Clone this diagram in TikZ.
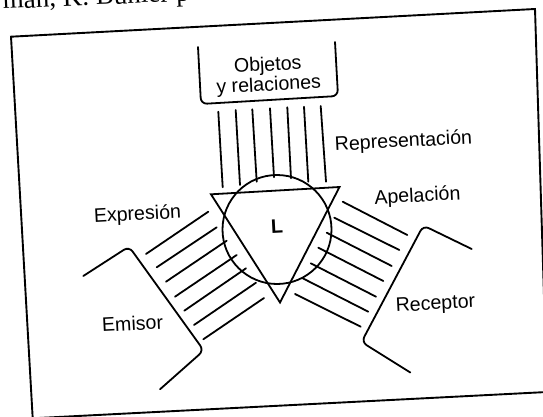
\documentclass[tikz,border=0pt]{standalone}
\usepackage{fontspec}
\setmainfont{Liberation Sans}
\newfontfamily\headserif{Liberation Serif}
\begin{document}
\begin{tikzpicture}[x=1pt,y=-1pt,
  ln/.style={line width=1.8pt, line cap=round},
  frame/.style={line width=1.9pt, line join=miter},
  lbl/.style={font=\fontsize{19.6}{19.6}\selectfont, rotate=3, inner sep=0pt},
]
\useasboundingbox (0,0) rectangle (543,417);
\clip (0,0) rectangle (543,417);
\fill[white] (0,0) rectangle (543,417);

% cut-off running head
\node[font=\headserif\fontsize{27}{27}\selectfont, anchor=base west, rotate=2.5, inner sep=0pt] (head) at (3,9) {man, K. Bühler p};

% page frame
\draw[frame] (11,36.7) -- (535,9) -- (547,392) -- (32.7,418.3) -- cycle;

% box: Objetos y relaciones
\draw[ln, rounded corners=6pt] (198,47) -- (201,104) -- (338,96) -- (335,42);
\node[lbl, anchor=base] (obj1) at (268,71) {Objetos};
\node[lbl, anchor=base] (obj2) at (269,91) {y relaciones};

% vertical lines (Representación)
\draw[ln] (218.3,111.7) -- (222.7,187.3);
\draw[ln] (235.7,110) -- (240,185);
\draw[ln] (252.3,109.3) -- (256.7,181.7);
\draw[ln] (270,108.3) -- (274,177.3);
\draw[ln] (287.3,107.3) -- (291,178.3);
\draw[ln] (304,106.7) -- (308.3,181.7);
\draw[ln] (320.7,106) -- (326,181.7);

% circle and triangle
\draw[ln] (277,229.5) circle[radius=54.5];
\draw[ln, line join=miter] (211,194.3) -- (339.5,187) -- (280,302.5) -- cycle;
\node[lbl, font=\bfseries\fontsize{19.6}{19.6}\selectfont] (L) at (277,226.7) {L};

% left lines (Expresión)
\draw[ln] (146,254) -- (208.3,211.7);
\draw[ln] (156.7,267.3) -- (216.7,227.3);
\draw[ln] (166,281.7) -- (226.7,240.7);
\draw[ln] (175,296.7) -- (236.7,255);
\draw[ln] (184.3,310.7) -- (246,268.3);
\draw[ln] (194,325) -- (256,282.7);
\draw[ln] (203.3,339.3) -- (264,298);

% right lines (Apelación)
\draw[ln] (342.7,201.7) -- (407.3,235);
\draw[ln] (334.3,217.7) -- (399.3,250);
\draw[ln] (326.7,232.7) -- (391.7,266);
\draw[ln] (318.3,247.7) -- (383.3,281);
\draw[ln] (310.7,263.3) -- (376,296.7);
\draw[ln] (302.7,278.3) -- (368.3,311.7);
\draw[ln] (295,294) -- (360.7,326.7);

% Emisor bracket
\draw[ln, rounded corners=6pt] (83.3,276) -- (129,246.5) -- (203.8,350.5) -- (160,389.3);
% Receptor bracket
\draw[ln, rounded corners=6pt] (471.7,249) -- (423.3,225.5) -- (361.5,342) -- (410.3,372.5);

% labels
\node[lbl] (rep) at (403.5,142) {Representación};
\node[lbl] (ape) at (417.5,196.7) {Apelación};
\node[lbl] (exp) at (137.5,215) {Expresión};
\node[lbl] (emi) at (132.5,323.3) {Emisor};
\node[lbl] (rec) at (435.5,305) {Receptor};
\end{tikzpicture}
\end{document}
